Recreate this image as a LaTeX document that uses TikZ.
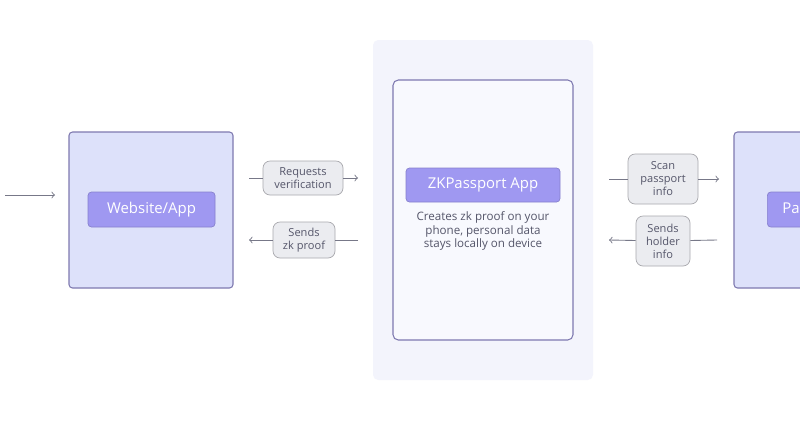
\documentclass[tikz,border=0pt]{standalone}
\usepackage{fontspec}
\setmainfont{Open Sans}
\definecolor{panelbg}{HTML}{F3F4FC}
\definecolor{phonebg}{HTML}{F8F9FE}
\definecolor{boxbg}{HTML}{DDE1FA}
\definecolor{boxline}{HTML}{7E79B0}
\definecolor{pill}{HTML}{9F98F1}
\definecolor{tagbg}{HTML}{EBECF0}
\definecolor{tagline}{HTML}{A9A9AE}
\definecolor{txt}{HTML}{55566A}
\tikzset{
  party/.style={draw=boxline, fill=boxbg, rounded corners=2pt, line width=0.6pt},
  pill/.style={fill=pill, draw=pill!85!black, rounded corners=2pt, text=white,
    font=\fontsize{8.5}{10}\selectfont, inner sep=0pt, anchor=center},
  tag/.style={draw=tagline, fill=tagbg, rounded corners=4pt, text=txt, align=center,
    font=\fontsize{6.3}{7.4}\selectfont, inner sep=2pt, anchor=center},
  flow/.style={draw=txt!80, line width=0.5pt},
}
\begin{document}
\begin{tikzpicture}[x=0.02cm, y=-0.02cm]
            \clip (0,0) rectangle (800,420);
            \fill[white] (0,0) rectangle (800,420);
            % phone panel
            \fill[panelbg, rounded corners=3pt] (373,40) rectangle (593,380);
            \draw[boxline, fill=phonebg, rounded corners=3pt, line width=0.6pt] (393,80) rectangle (573,340);
            % parties
            \draw[party] (69,132) rectangle (233,288);
            \draw[party] (734,132) rectangle (830,288);
            \node[pill, minimum width=127*0.02cm, minimum height=35*0.02cm] (web) at (151.5,209.5) {Website/App};
            \node[pill, minimum width=154*0.02cm, minimum height=34*0.02cm] (zk) at (483,185) {ZKPassport App};
            \node[pill, minimum height=35*0.02cm, anchor=west, inner xsep=15*0.02cm, align=left] (pass) at (767,209.5) {Passport};
            \node[text=txt, align=center, font=\fontsize{6.6}{7.6}\selectfont] (desc) at (483,231)
              {Creates zk proof on your\\phone, personal data\\stays locally on device};
            % tags
            \node[tag, minimum width=80*0.02cm, minimum height=34*0.02cm] (req) at (303,178) {Requests\\verification};
            \node[tag, minimum width=62*0.02cm, minimum height=36*0.02cm] (proof) at (304,240) {Sends\\zk proof};
            \node[tag, minimum width=70*0.02cm, minimum height=50*0.02cm] (scan) at (663,179) {Scan\\passport\\info};
            \node[tag, minimum width=54*0.02cm, minimum height=50*0.02cm] (hold) at (663,241) {Sends\\holder\\info};
            % connector ends
            \coordinate (in0) at (5,195);
            \coordinate (in1) at (55,195);
            \coordinate (r0) at (249,178);
            \coordinate (r1) at (358,178);
            \coordinate (p0) at (358,240);
            \coordinate (p1) at (249,240);
            \coordinate (s0) at (609,179);
            \coordinate (s1) at (719,179);
            \coordinate (h0) at (717,240);
            \coordinate (h1) at (609,240);
            \draw[flow, ->] (in0) -- (in1);
            \draw[flow] (r0) -- (req);
            \draw[flow, ->] (req) -- (r1);
            \draw[flow] (p0) -- (proof);
            \draw[flow, ->] (proof) -- (p1);
            \draw[flow] (s0) -- (scan);
            \draw[flow, ->] (scan) -- (s1);
            \draw[flow] (h0) -- (hold);
            \draw[flow, ->] (hold) -- (h1);
        \end{tikzpicture}
\end{document}
